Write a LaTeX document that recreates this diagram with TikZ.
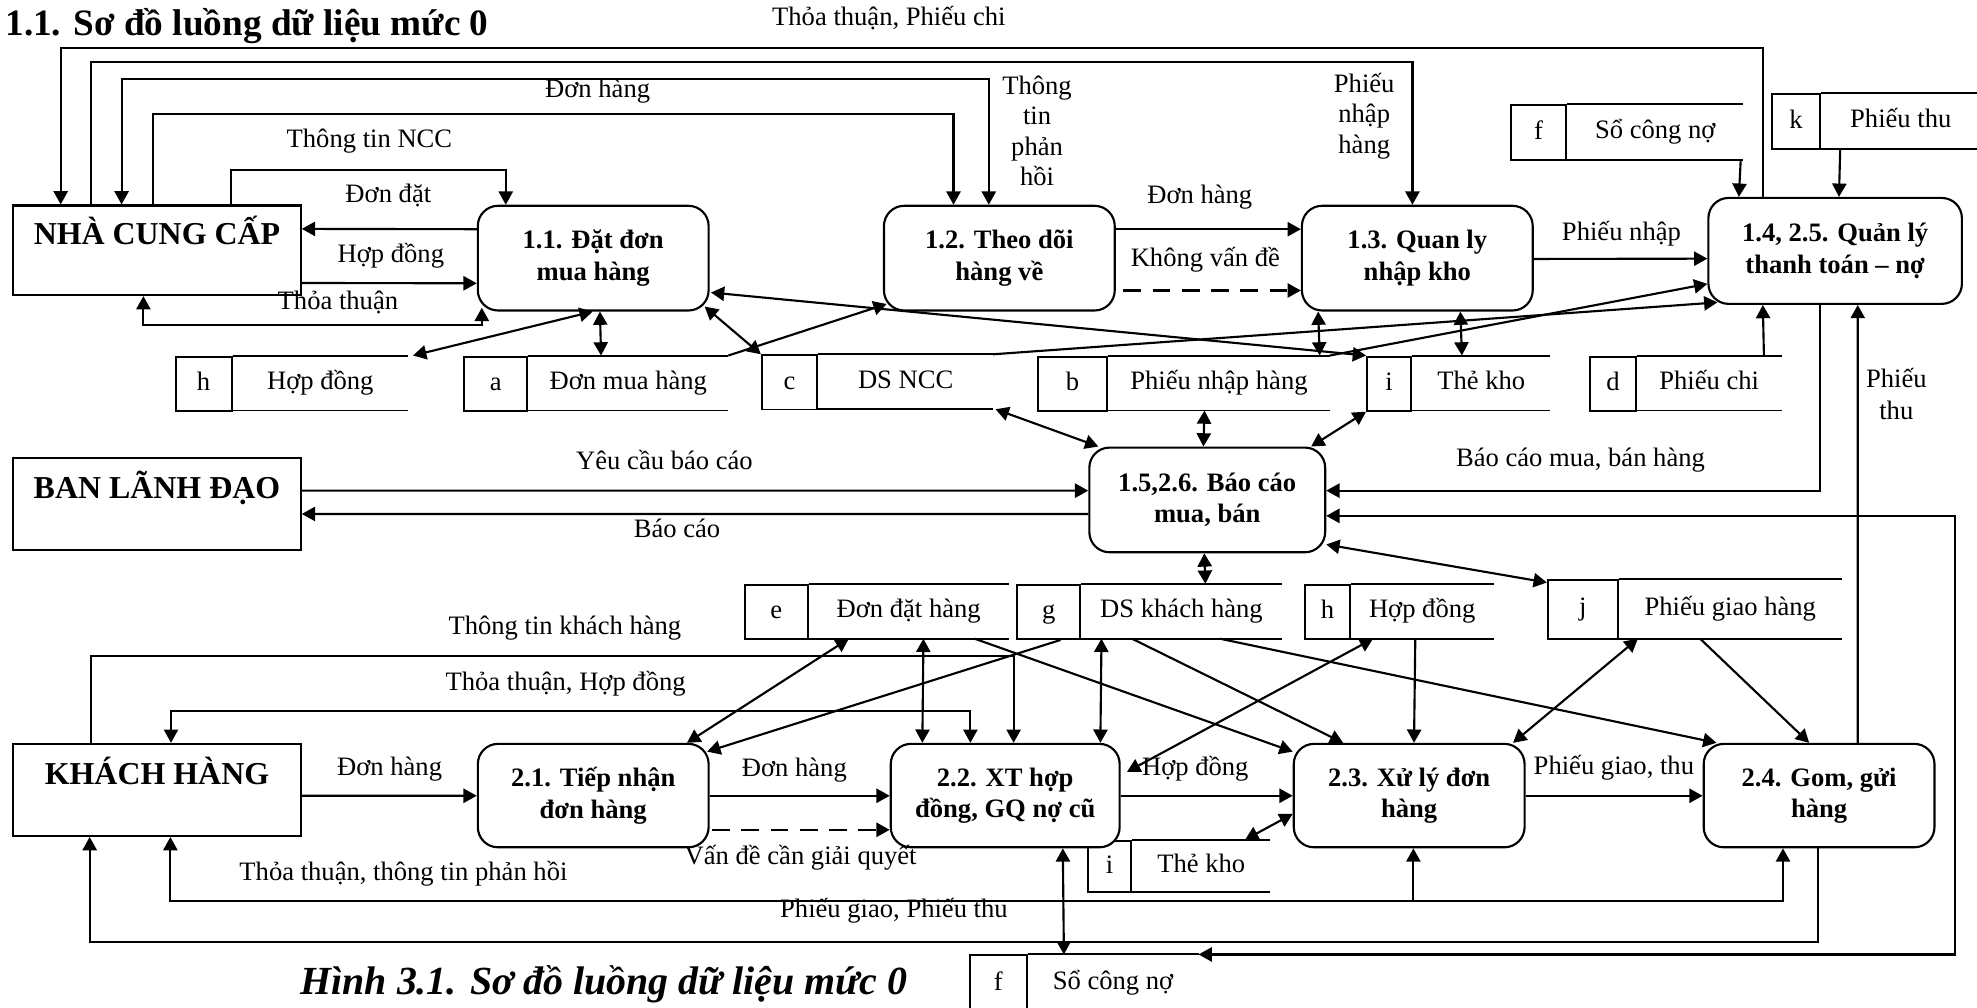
\documentclass[tikz,border=0pt]{standalone}
\usepackage{fontspec}
\setmainfont{Liberation Serif}
\usetikzlibrary{arrows.meta,calc}

\begin{document}
\begin{tikzpicture}[x=0.025cm,y=-0.025cm]
\tikzset{
  procnode/.style={draw=black,fill=white,line width=1.2pt,rounded corners=0.4cm,minimum width=4.575cm,minimum height=2.075cm,align=center,inner sep=1pt,font=\fontsize{15}{17.8}\selectfont\bfseries},
  extnode/.style={draw=black,fill=white,line width=1.2pt,minimum width=5.7cm,minimum height=1.825cm,text height=16pt,text depth=22pt,inner sep=0pt,font=\fontsize{18}{21}\selectfont\bfseries},
  storeline/.style={draw=black,line width=1.1pt},
  storecell/.style={draw=black,line width=1.1pt,anchor=north east,inner sep=0pt,text height=10.5pt,text depth=3pt,font=\fontsize{15}{17}\selectfont},
  storebody/.style={anchor=north west,inner sep=0pt,text height=10.5pt,text depth=3pt,font=\fontsize{15}{17}\selectfont,
    append after command={(\tikzlastnode.north west) edge[storeline] (\tikzlastnode.north east)
      (\tikzlastnode.south west) edge[storeline] (\tikzlastnode.south east)}},
  flowlabel/.style={inner sep=1pt,align=center,font=\fontsize{15}{17}\selectfont},
  dataflow/.style={draw=black,line width=1.2pt,-{Triangle[length=7.5pt,width=8pt]}},
  dualflow/.style={draw=black,line width=1.2pt,{Triangle[length=7.5pt,width=8pt]}-{Triangle[length=7.5pt,width=8pt]}},
  dashflow/.style={dataflow,dash pattern=on 10pt off 6.5pt}
}
\useasboundingbox (0,0) rectangle (1568,799);

% kho du lieu
\node[storebody,minimum width=3.4625cm,minimum height=1.075cm] (st_h1) at (184.5,282) {Hợp đồng};
\node[storecell,minimum width=1.1125cm,minimum height=1.075cm] (st_h1id) at (st_h1.north west) {h};
\node[storebody,minimum width=3.95cm,minimum height=1.075cm] (st_a) at (419,282) {Đơn mua hàng};
\node[storecell,minimum width=1.25cm,minimum height=1.075cm] (st_aid) at (st_a.north west) {a};
\node[storebody,minimum width=3.45cm,minimum height=1.075cm] (st_c) at (649,281) {DS NCC};
\node[storecell,minimum width=1.1cm,minimum height=1.075cm] (st_cid) at (st_c.north west) {c};
\node[storebody,minimum width=4.375cm,minimum height=1.075cm] (st_b) at (879,282) {Phiếu nhập hàng};
\node[storecell,minimum width=1.375cm,minimum height=1.075cm] (st_bid) at (st_b.north west) {b};
\node[storebody,minimum width=2.725cm,minimum height=1.075cm] (st_i1) at (1120,282) {Thẻ kho};
\node[storecell,minimum width=0.875cm,minimum height=1.075cm] (st_i1id) at (st_i1.north west) {i};
\node[storebody,minimum width=2.865cm,minimum height=1.075cm] (st_d) at (1298,282) {Phiếu chi};
\node[storecell,minimum width=0.9cm,minimum height=1.075cm] (st_did) at (st_d.north west) {d};
\node[storebody,minimum width=3.475cm,minimum height=1.0875cm] (st_f1) at (1243,82.5) {Sổ công nợ};
\node[storecell,minimum width=1.1cm,minimum height=1.0875cm] (st_f1id) at (st_f1.north west) {f};
\node[storebody,minimum width=3.1375cm,minimum height=1.09cm] (st_k) at (1444.5,74) {Phiếu thu};
\node[storecell,minimum width=0.9625cm,minimum height=1.09cm] (st_kid) at (st_k.north west) {k};
\node[storebody,minimum width=3.955cm,minimum height=1.075cm] (st_e) at (641.3,463) {Đơn đặt hàng};
\node[storecell,minimum width=1.24cm,minimum height=1.075cm] (st_eid) at (st_e.north west) {e};
\node[storebody,minimum width=3.9625cm,minimum height=1.075cm] (st_g) at (857.5,463) {DS khách hàng};
\node[storecell,minimum width=1.245cm,minimum height=1.075cm] (st_gid) at (st_g.north west) {g};
\node[storebody,minimum width=2.815cm,minimum height=1.075cm] (st_h2) at (1071.4,463) {Hợp đồng};
\node[storecell,minimum width=0.89cm,minimum height=1.075cm] (st_h2id) at (st_h2.north west) {h};
\node[storebody,minimum width=4.4cm,minimum height=1.175cm] (st_j) at (1284,459) {Phiếu giao hàng};
\node[storecell,minimum width=1.39cm,minimum height=1.175cm] (st_jid) at (st_j.north west) {j};
\node[storebody,minimum width=2.725cm,minimum height=1.025cm] (st_i2) at (898,666) {Thẻ kho};
\node[storecell,minimum width=0.86cm,minimum height=1.025cm] (st_i2id) at (st_i2.north west) {i};
\node[storebody,minimum width=3.375cm,minimum height=1.125cm] (st_f2) at (815,757) {Sổ công nợ};
\node[storecell,minimum width=1.125cm,minimum height=1.125cm] (st_f2id) at (st_f2.north west) {f};

% tac nhan va chuc nang
\node[extnode,minimum height=1.775cm] (n_NCC) at (124.5,198.5) {NHÀ CUNG CẤP};
\node[extnode] (n_BLD) at (124.5,399.5) {BAN LÃNH ĐẠO};
\node[extnode] (n_KH) at (124.5,626.5) {KHÁCH HÀNG};
\node[procnode] (n_P11) at (470.5,204.75) {1.1. Đặt đơn\\mua hàng};
\node[procnode] (n_P12) at (792.6,204.75) {1.2. Theo dõi\\hàng về};
\node[procnode] (n_P13) at (1124.1,204.75) {1.3. Quan ly\\nhập kho};
\node[procnode,minimum width=5.025cm,minimum height=2.1cm] (n_P14) at (1455.5,199) {1.4, 2.5. Quản lý\\thanh toán – nợ};
\node[procnode,minimum width=4.675cm] (n_P15) at (957.5,396.5) {1.5,2.6. Báo cáo\\mua, bán};
\node[procnode,minimum height=2.05cm] (n_P21) at (470.5,631) {2.1. Tiếp nhận\\đơn hàng};
\node[procnode,minimum width=4.5375cm,minimum height=2.05cm] (n_P22) at (797.25,631) {2.2. XT hợp\\đồng, GQ nợ cũ};
\node[procnode,minimum height=2.05cm] (n_P23) at (1117.65,631) {2.3. Xử lý đơn\\hàng};
\node[procnode,minimum height=2.05cm] (n_P24) at (1442.75,631) {2.4. Gom, gửi\\hàng};

% luong phia tren
\draw[dataflow] ($(n_P14.north west)+(44,0)$) -- ++(0,-117.9) -| ($(n_NCC.north west)+(38.5,0)$);
\draw[dataflow] ($(n_NCC.north west)+(62.5,0)$) -- ++(0,-112.8) -| ($(n_P13.north west)+(88.5,0)$);
\draw[dualflow] ($(n_NCC.north west)+(86.8,0)$) -- ++(0,-99.6) -| ($(n_P12.north west)+(84,0)$);
\draw[dataflow] ($(n_NCC.north west)+(111.5,0)$) -- ++(0,-71.8) -| ($(n_P12.north west)+(56,0)$);
\draw[dataflow] ($(n_NCC.north west)+(173.5,0)$) -- ++(0,-27.6) -| ($(n_P11.north west)+(23,0)$);
\draw[dataflow] ($(n_P11.north west)+(0,19.4)$) -- ($(n_NCC.north east)+(0,19.4)$);
\draw[dataflow] ($(n_NCC.north east)+(0,62.3)$) -- ($(n_P11.north west)+(0,62.3)$);
\draw[dualflow] ($(n_NCC.south west)+(104.1,0)$) -- ++(0,23) -| ($(n_P11.south west)+(4,-3)$);
\draw[dataflow] ($(n_P12.north east)+(0,19.4)$) -- ($(n_P13.north west)+(0,19.4)$);
\draw[dashflow] ($(n_P12.north east)+(6,68)$) -- ($(n_P13.north west)+(0,68)$);
\draw[dataflow] ($(n_P13.north east)+(0,43)$) -- ($(n_P14.north west)+(0,49)$);
\draw[dataflow] ($(st_f1.south east)+(-2,0)$) -- ($(n_P14.north west)+(25,0)$);
\draw[dataflow] ($(st_k.south west)+(15,0)$) -- ($(n_P14.north west)+(104.4,0)$);
\draw[dualflow] ($(st_h1.north east)+(4,0)$) -- ($(n_P11.south west)+(92,0)$);
\draw[dualflow] ($(n_P11.south west)+(97.7,0)$) -- ($(st_a.north west)+(57.7,0)$);
\draw[dualflow] ($(n_P11.south east)+(-4,-4)$) -- (st_cid.north west);
\draw[dualflow] ($(n_P11.north east)+(1,69.6)$) -- (st_i1id.north west);
\draw[dataflow] (st_a.north east) -- ($(n_P12.south west)+(3,-6)$);
\draw[dataflow] (st_c.north east) -- ($(n_P14.south west)+(8,-2)$);
\draw[dataflow] (st_b.north east) -- ($(n_P14.north west)+(0,69)$);
\draw[dualflow] ($(n_P13.south west)+(13.7,0)$) -- ($(st_b.north west)+(167.7,0)$);
\draw[dualflow] ($(n_P13.south west)+(126.5,0)$) -- ($(st_i1.north west)+(39.5,0)$);
\draw[dataflow] ($(st_d.north west)+(101,0)$) -- ($(n_P14.south west)+(44,0)$);

% bao cao
\draw[dualflow] ($(st_c.south east)+(2,0)$) -- ($(n_P15.north west)+(8,0)$);
\draw[dualflow] ($(st_b.south west)+(76.3,0)$) -- ($(n_P15.north west)+(91.3,0)$);
\draw[dualflow] (st_i1id.south west) -- ($(n_P15.north east)+(-12,0)$);
\draw[dataflow] ($(n_BLD.north east)+(0,27)$) -- ($(n_P15.north west)+(0,35)$);
\draw[dataflow] ($(n_P15.north west)+(0,53.5)$) -- ($(n_BLD.north east)+(0,45.5)$);
\draw[dataflow] ($(n_P14.south west)+(89.6,0)$) |- ($(n_P15.north east)+(0,35)$);
\draw[dualflow] ($(n_P15.north east)+(0,55)$) -- ++(498.7,0) |- (st_f2.north east);
\draw[dataflow] ($(n_P24.north west)+(123,0)$) -- ($(n_P14.south west)+(119.3,0)$);
\draw[dualflow] ($(n_P15.south west)+(92,0)$) -- ($(st_g.north west)+(98.5,0)$);
\draw[dualflow] ($(n_P15.south east)+(0,-7)$) -- ($(st_jid.north west)+(0,3)$);

% luong phia duoi
\draw[dataflow] ($(n_KH.north west)+(62.5,0)$) -- ++(0,-69) -| ($(n_P22.north west)+(98.3,0)$);
\draw[dualflow] ($(n_P22.north west)+(64,0)$) -- ++(0,-25) -| ($(n_KH.north west)+(126,0)$);
\draw[dualflow] ($(st_e.south west)+(31.9,0)$) -- ($(n_P21.north east)+(-18,0)$);
\draw[dataflow] ($(st_gid.south west)+(35,0)$) -- ($(n_P21.north east)+(-2,7)$);
\draw[dualflow] ($(st_e.south west)+(91.1,0)$) -- ($(n_P22.north west)+(25.9,0)$);
\draw[dualflow] ($(st_g.south west)+(16.1,0)$) -- ($(n_P22.north west)+(167.1,0)$);
\draw[dataflow] ($(st_e.south west)+(131.7,0)$) -- ($(n_P23.north west)+(0,7)$);
\draw[dataflow] ($(st_g.south west)+(40.3,0)$) -- ($(n_P23.north west)+(40,0)$);
\draw[dataflow] ($(st_g.south west)+(110,0)$) -- ($(n_P24.north west)+(11,0)$);
\draw[dataflow] ($(st_h2.south west)+(51.1,0)$) -- ($(n_P23.north west)+(96.2,0)$);
\draw[dualflow] ($(n_P22.north east)+(5,23)$) -- ($(st_h2.south west)+(17.6,0)$);
\draw[dualflow] ($(st_j.south west)+(15,0)$) -- ($(n_P23.north east)+(-10,0)$);
\draw[dataflow] ($(st_j.south west)+(64.4,0)$) -- ($(n_P24.north west)+(84.5,0)$);
\draw[dataflow] ($(n_KH.north east)+(0,42)$) -- ($(n_P21.north west)+(0,42)$);
\draw[dataflow] ($(n_P21.north east)+(0,42)$) -- ($(n_P22.north west)+(0,42)$);
\draw[dashflow] ($(n_P21.north east)+(2,69)$) -- ($(n_P22.north west)+(0,69)$);
\draw[dataflow] ($(n_P22.north east)+(0,42)$) -- ($(n_P23.north west)+(0,42)$);
\draw[dataflow] ($(n_P23.north east)+(0,42)$) -- ($(n_P24.north west)+(0,42)$);
\draw[dualflow] ($(st_i2.north west)+(89.5,0)$) -- ($(n_P23.north west)+(0,56.4)$);
\draw[dualflow] ($(n_P22.south west)+(137.3,0)$) -- ($(st_f2.north west)+(28.8,0)$);
\draw[dualflow] ($(n_P24.south west)+(63.75,0)$) -- ++(0,42) -| ($(n_KH.south west)+(125.5,0)$);
\draw[dataflow] ($(n_P23.south west)+(95.7,42)$) -- ($(n_P23.south west)+(95.7,0)$);
\draw[dataflow] ($(n_P24.south west)+(91.75,0)$) -- ++(0,74) -| ($(n_KH.south west)+(61.5,0)$);

% nhan
\node[anchor=base west,inner sep=0pt,font=\fontsize{21}{24}\selectfont\bfseries] (l_title) at (4,28) {1.1. Sơ đồ luồng dữ liệu mức 0};
\node[flowlabel] (l_ttpc) at (705,14.5) {Thỏa thuận, Phiếu chi};
\node[flowlabel] (l_dh1) at (474,72) {Đơn hàng};
\node[flowlabel] (l_ttncc) at (293,112) {Thông tin NCC};
\node[flowlabel] (l_dd) at (308,155) {Đơn đặt};
\node[flowlabel] (l_hd1) at (310,203) {Hợp đồng};
\node[flowlabel] (l_tt1) at (268,240) {Thỏa thuận};
\node[flowlabel,font=\fontsize{15}{17.2}\selectfont] (l_ttph) at (822.5,104) {Thông\\tin\\phản\\hồi};
\node[flowlabel,font=\fontsize{15}{17.2}\selectfont] (l_pnh) at (1082,92) {Phiếu\\nhập\\hàng};
\node[flowlabel] (l_dh2) at (951.6,156) {Đơn hàng};
\node[flowlabel] (l_kvd) at (956,206) {Không vấn đề};
\node[flowlabel] (l_pn) at (1286,185) {Phiếu nhập};
\node[flowlabel] (l_ycbc) at (527,365) {Yêu cầu báo cáo};
\node[flowlabel] (l_bc) at (537,419) {Báo cáo};
\node[flowlabel] (l_bcmb) at (1253.5,365) {Báo cáo mua, bán hàng};
\node[flowlabel,font=\fontsize{15}{17.8}\selectfont] (l_pt) at (1504,312.5) {Phiếu\\thu};
\node[flowlabel] (l_ttkh) at (448,498) {Thông tin khách hàng};
\node[flowlabel] (l_tthd) at (448.6,542) {Thỏa thuận, Hợp đồng};
\node[flowlabel] (l_dh3) at (309,610) {Đơn hàng};
\node[flowlabel] (l_dh4) at (630,610.7) {Đơn hàng};
\node[flowlabel] (l_vd) at (635,680) {Vấn đề cần giải quyết};
\node[flowlabel] (l_hd2) at (948,610) {Hợp đồng};
\node[flowlabel] (l_pgt) at (1280,609) {Phiếu giao, thu};
\node[flowlabel] (l_ttttph) at (320,693) {Thỏa thuận, thông tin phản hồi};
\node[flowlabel] (l_pgpt) at (709,722) {Phiếu giao, Phiếu thu};
\node[anchor=base,inner sep=0pt,font=\fontsize{22.5}{26}\selectfont\bfseries\itshape] (l_caption) at (479,789) {Hình 3.1. Sơ đồ luồng dữ liệu mức 0};
\end{tikzpicture}
\end{document}
